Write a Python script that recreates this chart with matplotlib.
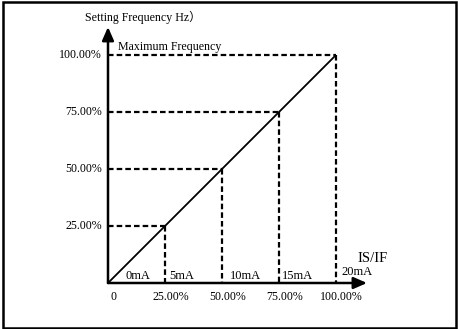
import matplotlib
matplotlib.use("Agg")
import matplotlib.pyplot as plt
from matplotlib.patches import Rectangle, FancyArrowPatch

levels = [25, 50, 75, 100]
x_tick_labels = ["25.00%", "50.00%", "75.00%", "100.00%"]
y_tick_labels = ["25.00%", "50.00%", "75.00%", "100.00%"]
ma_labels = ["0mA", "5mA", "10mA", "15mA", "20mA"]
ma_positions = [0, 25, 50, 75, 100]
diag_x = [0, 100]
diag_y = [0, 100]

W, H = 458, 329
fig = plt.figure(figsize=(W / 100, H / 100), dpi=100)
plt.rcParams['font.family'] = ['Liberation Serif', 'Noto Sans CJK SC']

ax = fig.add_axes([0, 0, 1, 1])
s = 2.28
x0px, y0px = 108, 283
ax.set_xlim(-x0px / s, (W - x0px) / s)
ax.set_ylim(-(H - y0px) / s, y0px / s)
ax.axis('off')

# border
fig.patches.append(Rectangle((3 / W, 1.5 / H), 453 / W, 326 / H, transform=fig.transFigure,
                             fill=False, lw=1.8, edgecolor='black'))

dash = (0, (2.5, 1.4))
lw = 1.6
for v in levels:
    ax.plot([0, v], [v, v], color='black', lw=lw, linestyle=dash, dash_capstyle='butt')
    ax.plot([v, v], [v, 0], color='black', lw=lw, linestyle=dash, dash_capstyle='butt')

ax.plot(diag_x, diag_y, color='black', lw=1.3, solid_capstyle='butt')

# axes arrows
ax.add_patch(FancyArrowPatch((0, 0), (113.6, 0), arrowstyle='-|>,head_length=8,head_width=3.5',
                             mutation_scale=1, lw=1.8, color='black', shrinkA=0, shrinkB=0))
ax.add_patch(FancyArrowPatch((0, 0), (0, 112.3), arrowstyle='-|>,head_length=8,head_width=3.5',
                             mutation_scale=1, lw=1.8, color='black', shrinkA=0, shrinkB=0))

fs = 8.6
for v, lab in zip(levels, y_tick_labels):
    ax.text(-2.6, v, lab, ha='right', va='center', fontsize=fs)
for v, lab in zip(levels, x_tick_labels):
    ax.text(v + 2.4, -6.2, lab, ha='center', va='center', fontsize=fs)
ax.text(2.2, -6.2, "0", ha='center', va='center', fontsize=fs)

ma_dx = [7.5, 2.0, 3.3, 1.5, 2.3]
ma_dy = [3.1, 3.1, 3.1, 3.1, 4.9]
for p, lab, dx, dy in zip(ma_positions, ma_labels, ma_dx, ma_dy):
    ax.text(p + dx, dy, lab, ha='left', va='center', fontsize=9)

ax.text(109.5, 10.8, "IS/IF", ha='left', va='center', fontsize=10.5)
ax.text(4.4, 103.5, "Maximum Frequency", ha='left', va='center', fontsize=8.6)
ax.text(-10, 116.5, "Setting Frequency Hz）", ha='left', va='center', fontsize=8.6)

fig.savefig("out.png", dpi=100)
